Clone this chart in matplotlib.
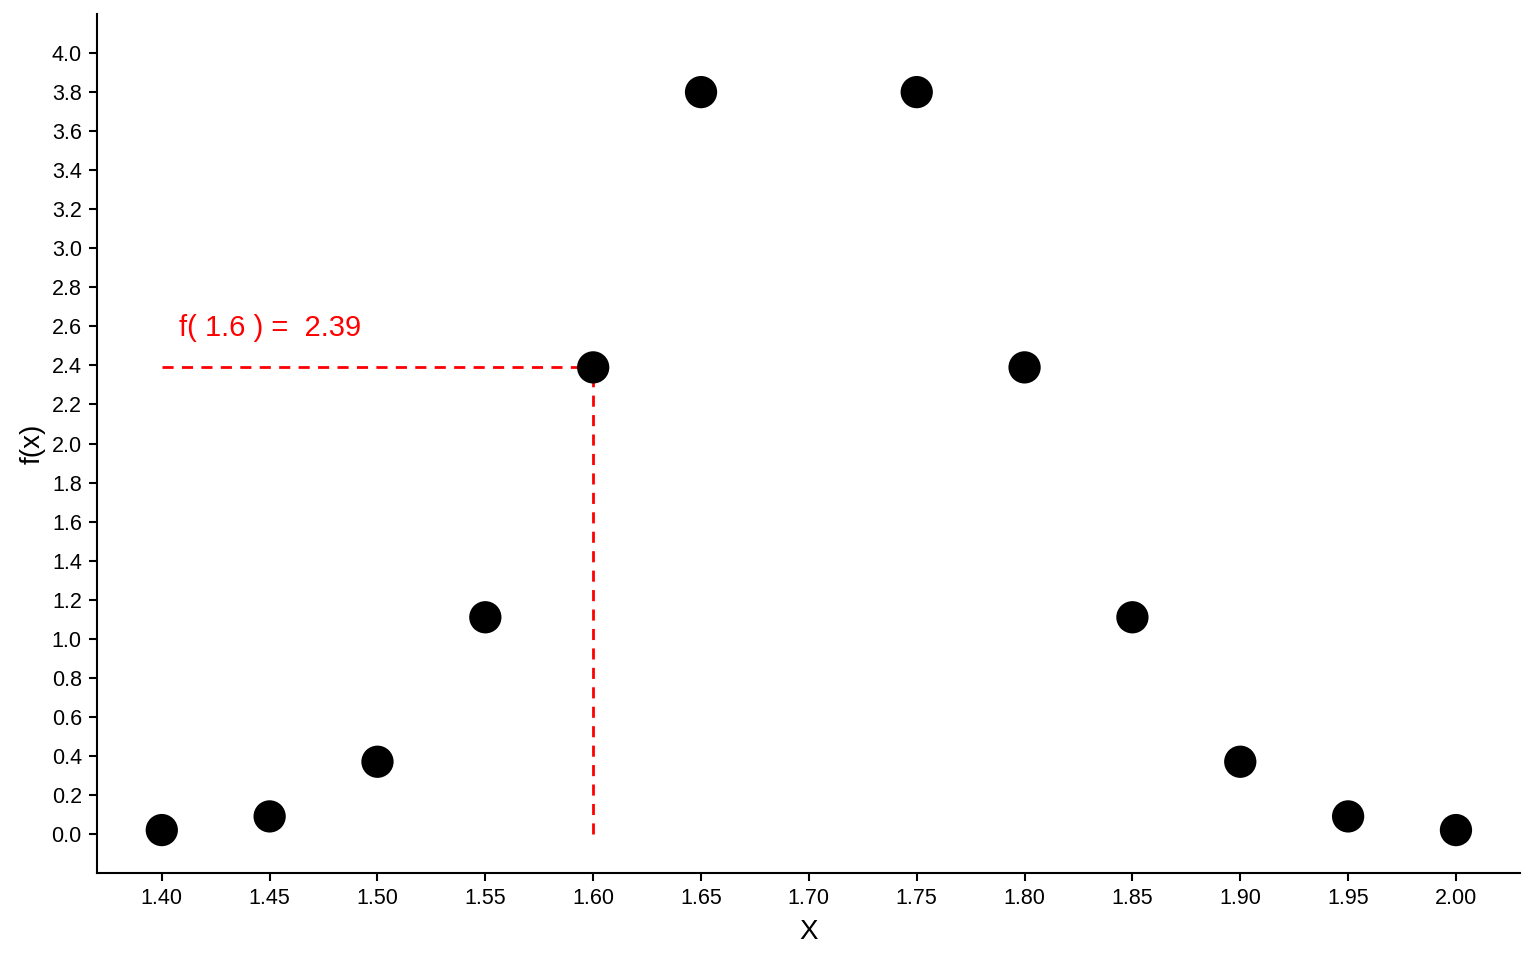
import matplotlib
matplotlib.use("Agg")
import matplotlib.pyplot as plt
import numpy as np

# data
x_vals = [1.40, 1.45, 1.50, 1.55, 1.60, 1.65, 1.75, 1.80, 1.85, 1.90, 1.95, 2.00]
fx_vals = [0.02, 0.09, 0.37, 1.11, 2.39, 3.80, 3.80, 2.39, 1.11, 0.37, 0.09, 0.02]
x_mark = 1.60
fx_mark = 2.39
x_ticks = [1.40, 1.45, 1.50, 1.55, 1.60, 1.65, 1.70, 1.75, 1.80, 1.85, 1.90, 1.95, 2.00]
y_ticks = [round(0.2 * i, 1) for i in range(21)]

plt.rcParams["font.family"] = ["Liberation Sans", "DejaVu Sans"]

fig = plt.figure(figsize=(15.36, 9.6), dpi=100)
ax = fig.add_axes([0.0632, 0.0906, 0.9264, 0.8948])

ax.plot([x_vals[0], x_mark], [fx_mark, fx_mark], color="red", lw=2, ls=(0, (4, 3)))
ax.plot([x_mark, x_mark], [0, fx_mark], color="red", lw=2, ls=(0, (4, 3)))
ax.scatter(x_vals, fx_vals, s=540, color="black", zorder=3, edgecolors="none")
ax.text(1.45, 2.59, f"f( {x_mark:g} ) =  {fx_mark}", color="red", fontsize=21,
        ha="center", va="center")

ax.set_xlim(1.37, 2.0297)
ax.set_ylim(-0.2, 4.2)
ax.set_xticks(x_ticks)
ax.set_xticklabels([f"{v:.2f}" for v in x_ticks])
ax.set_yticks(y_ticks)
ax.set_yticklabels([f"{v:.1f}" for v in y_ticks])
ax.tick_params(labelsize=15.5, length=6, width=1.5, colors="black", pad=5)
for side in ["top", "right"]:
    ax.spines[side].set_visible(False)
for side in ["left", "bottom"]:
    ax.spines[side].set_linewidth(1.5)

ax.set_xlabel("X", fontsize=20, labelpad=7)
ax.set_ylabel("f(x)", fontsize=20, labelpad=4)

fig.savefig("out.png", dpi=100)
